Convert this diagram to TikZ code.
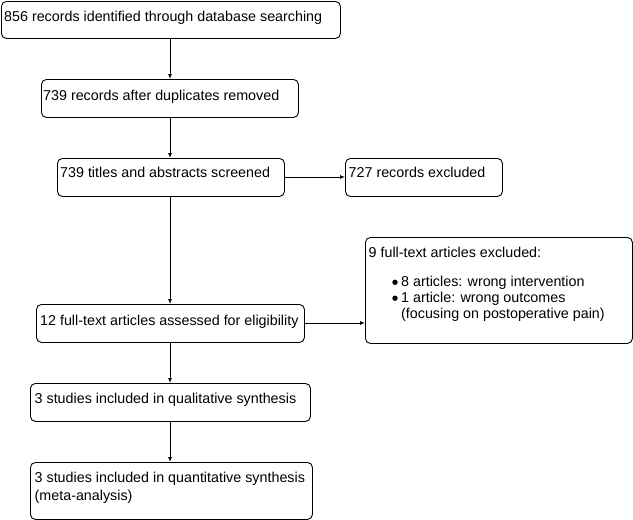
\documentclass[tikz,border=0pt]{standalone}
\usepackage{fontspec}
\setmainfont{Liberation Sans}
\usetikzlibrary{arrows.meta}
\tikzset{
  box/.style={draw=black, line width=0.9pt, rounded corners=5pt, rectangle, inner sep=0pt, anchor=north west},
  txt/.style={anchor=north west, inner sep=0pt, align=left, font=\fontsize{14.3pt}{16.5pt}\selectfont},
  arr/.style={draw=black, line width=0.9pt, -{Latex[length=5pt,width=4pt]}},
}
\newcommand{\st}{\rule{0pt}{10.5pt}}
\begin{document}
\begin{tikzpicture}[x=1pt,y=-1pt]
\useasboundingbox (0,0) rectangle (633,520);
% boxes
\node[box, minimum width=339pt, minimum height=37pt] (b1) at (1,1) {};
\node[box, minimum width=257pt, minimum height=38pt] (b2) at (41,79) {};
\node[box, minimum width=227pt, minimum height=38pt] (b3) at (57,158) {};
\node[box, minimum width=157pt, minimum height=38pt] (b4) at (345,158) {};
\node[box, minimum width=267pt, minimum height=106pt] (b5) at (365,237) {};
\node[box, minimum width=268pt, minimum height=38pt] (b6) at (36,304) {};
\node[box, minimum width=280pt, minimum height=38pt] (b7) at (30,383) {};
\node[box, minimum width=282pt, minimum height=57pt] (b8) at (30,462) {};
% texts
\node[txt] (t1) at (4,11) {\st 856 records identified through database searching};
\node[txt] (t2) at (43,89.5) {\st 739 records after duplicates removed};
\node[txt] (t3) at (60,166.5) {\st 739 titles and abstracts screened};
\node[txt] (t4) at (348.5,166.5) {\st 727 records excluded};
\node[txt] (t5) at (368.5,246.5) {\st 9 full-text articles excluded:};
\node[txt, font=\fontsize{14.3pt}{15.7pt}\selectfont] (t5b) at (401,276) {\st 8 articles: wrong intervention\\1 article: wrong outcomes\\(focusing on postoperative pain)};
\node[txt] (t6) at (40,314.5) {\st 12 full-text articles assessed for eligibility};
\node[txt] (t7) at (34.5,392.5) {\st 3 studies included in qualitative synthesis};
\node[txt, font=\fontsize{14.3pt}{18pt}\selectfont] (t8) at (34.5,471.5) {\st 3 studies included in quantitative synthesis\\(meta-analysis)};
% bullets
\fill (395,282.3) circle (2.7pt);
\fill (395,298.2) circle (2.7pt);
% connectors
\coordinate (c12) at (170,38);
\draw[arr] (b1.south -| c12) -- (b2.north -| c12);
\draw[arr] (b2.south -| c12) -- (b3.north -| c12);
\draw[arr] (b3.south -| c12) -- (b6.north -| c12);
\draw[arr] (b6.south -| c12) -- (b7.north -| c12);
\draw[arr] (b7.south -| c12) -- (b8.north -| c12);
\coordinate (h1) at (0,177);
\coordinate (h2) at (0,323);
\draw[arr] (b3.east |- h1) -- (b4.west |- h1);
\draw[arr] (b6.east |- h2) -- (b5.west |- h2);
\end{tikzpicture}
\end{document}
